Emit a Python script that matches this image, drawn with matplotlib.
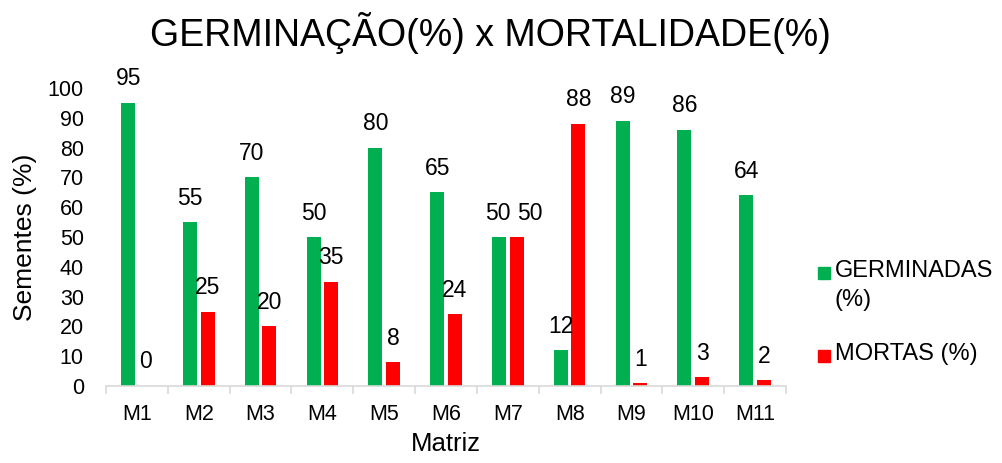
import matplotlib
matplotlib.use("Agg")
import matplotlib.pyplot as plt
import numpy as np
from matplotlib.patches import Rectangle

categories = ["M1", "M2", "M3", "M4", "M5", "M6", "M7", "M8", "M9", "M10", "M11"]
germinadas = [95, 55, 70, 50, 80, 65, 50, 12, 89, 86, 64]
mortas = [0, 25, 20, 35, 8, 24, 50, 88, 1, 3, 2]
yticks = [0, 10, 20, 30, 40, 50, 60, 70, 80, 90, 100]
series_names = ["GERMINADAS\n(%)", "MORTAS (%)"]

plt.rcParams['font.family'] = ['Liberation Sans', 'DejaVu Sans']

W, H = 1003, 463
fig = plt.figure(figsize=(W / 100, H / 100), dpi=100)
ax = fig.add_axes([106 / W, 1 - 386 / H, (786 - 106) / W, (386 - 88) / H])

green = "#00B050"
red = "#FF0000"
x = np.arange(len(categories))
w = 0.2265
off = 0.142
ax.bar(x - off, germinadas, w, color=green)
ax.bar(x + off, mortas, w, color=red)

# small horizontal nudge (pixels) for the red label that would collide in M7
red_nudge = [0, 0, 0, 0, 0, 0, 13, 0, 0, 0, 0]
green_nudge = [0, 0, 0, 0, 0, 0, -1, 0, 0, 0, 0]
for xi, g, m, gn, rn in zip(x, germinadas, mortas, green_nudge, red_nudge):
    ax.annotate(str(g), (xi - off, g), xytext=(gn, 24), textcoords="offset pixels",
                ha="center", va="center", fontsize=16.5)
    ax.annotate(str(m), (xi + off, m), xytext=(rn, 24), textcoords="offset pixels",
                ha="center", va="center", fontsize=16.5)

ax.set_xlim(-0.5, len(categories) - 0.5)
ax.set_ylim(0, 100)
ax.set_yticks(yticks)
ax.set_yticklabels([str(v) for v in yticks], fontsize=15.5)
ax.tick_params(axis='y', length=0, pad=16)
ax.set_xticks(x)
ax.set_xticklabels(categories, fontsize=15.5)
ax.tick_params(axis='x', length=0, pad=13)
ax.set_xticks(np.arange(-0.5, len(categories)), minor=True)
ax.tick_params(axis='x', which='minor', length=6, color="#d9d9d9", width=1.2)

for s in ["top", "right", "left"]:
    ax.spines[s].set_visible(False)
ax.spines["bottom"].set_color("#d9d9d9")
ax.spines["bottom"].set_linewidth(1.2)

ax.set_xlabel("Matriz", fontsize=18.5, labelpad=5)
ax.set_ylabel("Sementes (%)", fontsize=19, labelpad=8)

fig.text(490 / W, 1 - 33 / H, "GERMINAÇÃO(%) x MORTALIDADE(%)", fontsize=27,
         ha="center", va="center")

# legend drawn manually to align squares with the first text line
leg_colors = [green, red]
leg_y = [273, 356]
for name, col, yy in zip(series_names, leg_colors, leg_y):
    fig.patches.append(Rectangle((818 / W, 1 - (yy + 6) / H), 12 / W, 12 / H,
                                 transform=fig.transFigure, color=col))
    fig.text(835 / W, 1 - (yy - 13) / H, name, fontsize=17, va="top", ha="left",
             linespacing=1.4)

fig.savefig("out.png", dpi=100)
